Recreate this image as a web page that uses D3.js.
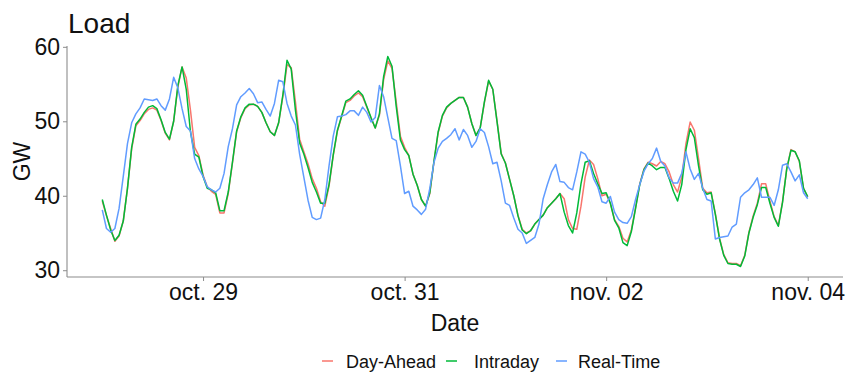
<!DOCTYPE html>
<html>
<head>
<meta charset="utf-8">
<script src="https://cdn.jsdelivr.net/npm/d3@7"></script>
<style>
  html, body { margin: 0; padding: 0; background: #fff; }
  svg { display: block; font-family: "Liberation Sans", Arial, sans-serif; }
</style>
</head>
<body>
<svg id="chart" width="850" height="374"></svg>
<script>
// ---- data (hourly, starting oct. 28 00:00) ----
const startTime = Date.UTC(2018, 9, 28, 0);
const seriesNames = ["Day-Ahead", "Intraday", "Real-Time"];
const seriesColors = ["#F8766D", "#00BA38", "#619CFF"];

const dayAhead = [
  39.3,37.3,35.6,33.9,34.6,36.6,41.0,46.3,49.4,50.1,51.0,51.6,51.8,51.5,50.1,48.4,47.5,50.0,54.6,57.3,55.8,51.5,46.5,45.4,
  42.8,41.2,40.6,40.2,37.7,37.7,40.3,44.4,48.6,50.5,51.7,52.2,52.3,52.0,51.2,49.8,48.6,48.1,49.8,53.3,57.6,57.2,52.6,47.6,
  45.9,44.3,42.3,41.0,39.2,38.6,41.3,45.4,48.7,50.6,52.5,52.8,53.4,53.8,53.3,51.9,50.4,49.1,50.8,55.6,58.1,57.1,52.6,48.0,
  46.5,45.4,42.9,41.4,39.5,38.6,40.3,44.6,48.5,50.7,51.8,52.4,52.8,53.2,53.2,51.9,49.7,48.1,49.1,52.5,55.4,54.3,50.1,45.7,
  44.4,42.2,40.0,37.4,35.5,35.0,35.3,36.2,36.8,37.4,38.4,39.0,39.6,40.3,39.6,36.8,35.6,35.5,38.6,42.5,44.8,44.2,42.3,40.0,
  40.2,39.0,36.8,35.9,34.3,33.8,35.4,38.4,41.6,43.6,44.5,44.3,44.0,44.6,44.3,43.2,41.5,40.5,42.5,47.0,49.9,48.8,45.0,41.0,
  40.4,40.5,37.6,34.3,32.1,31.0,30.9,30.9,30.6,32.0,35.1,37.3,39.0,41.6,41.6,39.3,37.2,36.0,39.2,43.6,46.2,45.9,44.6,41.0,
  39.8
];
const intraday = [
  39.5,37.4,35.4,34.0,34.7,36.6,41.0,46.5,49.6,50.3,51.2,51.9,52.1,51.7,50.2,48.5,47.6,50.0,54.8,57.3,54.3,48.6,45.6,45.2,
  42.6,41.0,40.8,40.4,38.0,38.0,40.5,44.5,48.7,50.6,51.8,52.3,52.3,52.0,51.2,49.8,48.6,48.1,49.8,53.5,58.2,57.0,51.5,47.1,
  45.6,43.8,41.8,40.5,39.0,39.0,41.5,45.5,48.8,50.7,52.7,53.0,53.6,54.1,53.5,52.0,50.5,49.1,51.0,56.0,58.7,57.4,52.0,47.5,
  46.2,45.4,42.9,41.4,39.5,38.6,40.4,44.7,48.6,50.8,51.9,52.4,52.8,53.2,53.2,51.9,49.7,48.1,49.1,52.6,55.5,54.3,50.0,45.6,
  44.4,42.2,40.0,37.3,35.4,34.9,35.3,36.2,36.8,37.4,38.4,39.0,39.6,40.3,37.8,36.0,35.0,37.7,41.6,44.5,44.7,43.0,41.6,40.3,
  40.4,39.0,36.7,35.7,33.7,33.3,35.2,38.3,41.5,43.5,44.4,44.0,43.5,43.8,43.8,42.3,40.6,39.3,41.5,46.2,49.0,47.8,44.0,40.8,
  40.2,40.4,37.5,34.2,32.0,30.9,30.8,30.8,30.5,31.9,35.0,37.1,38.8,41.1,41.1,39.0,37.1,35.9,39.1,43.6,46.1,45.9,44.7,41.0,
  39.9
];
const realTime = [
  38.1,35.6,35.1,35.6,38.3,42.6,47.0,49.8,51.0,51.8,53.0,52.9,52.8,53.0,52.1,51.5,53.0,55.9,54.5,51.7,49.3,48.7,45.0,43.6,
  42.6,41.2,40.8,40.5,41.0,43.0,46.6,49.0,52.2,53.3,53.8,54.4,53.7,52.5,52.6,51.6,50.7,52.4,55.5,55.3,52.4,50.7,49.5,45.6,
  42.5,39.4,37.1,36.8,37.0,39.5,44.0,48.0,50.6,50.7,50.9,51.4,51.4,50.8,51.9,51.2,49.9,50.5,54.8,53.3,50.5,47.7,47.4,44.0,
  40.3,40.6,38.6,38.1,37.5,38.2,41.0,44.5,46.4,47.3,47.7,48.2,49.0,47.5,48.9,48.1,46.5,47.3,49.0,48.5,46.6,44.3,44.5,42.0,
  39.0,38.7,37.0,35.5,35.0,33.6,34.0,34.4,36.2,39.6,41.5,43.2,44.2,41.9,41.8,41.1,40.8,43.2,45.9,45.6,44.5,42.3,41.2,39.2,
  39.0,39.9,37.8,36.8,36.4,36.3,37.2,39.5,41.5,43.3,44.3,45.0,46.4,44.6,44.0,42.4,41.7,41.7,43.0,45.9,43.6,42.2,43.0,41.0,
  39.5,39.3,34.2,34.4,34.5,34.6,35.8,36.2,39.8,40.4,40.8,41.5,42.4,39.8,39.8,39.8,38.7,40.8,44.1,44.3,43.2,42.0,42.8,40.4,
  39.6
];
const seriesValues = [dayAhead, intraday, realTime];

const xTickDates = [Date.UTC(2018, 9, 29), Date.UTC(2018, 9, 31), Date.UTC(2018, 10, 2), Date.UTC(2018, 10, 4)];
const xTickLabels = ["oct. 29", "oct. 31", "nov. 02", "nov. 04"];
const yTicks = [30, 40, 50, 60];

// ---- layout ----
const svg = d3.select("#chart");
const margin = { left: 67, right: 7, top: 46, bottom: 97 };
const W = 850, H = 374;
const pw = W - margin.left - margin.right;
const ph = H - margin.top - margin.bottom;

const HOUR = 3600 * 1000;
const times = dayAhead.map((_, i) => new Date(startTime + i * HOUR));
const tExt = d3.extent(times);
const tPad = (tExt[1] - tExt[0]) * 0.05;
const x = d3.scaleUtc()
  .domain([new Date(+tExt[0] - tPad), new Date(+tExt[1] + tPad)])
  .range([margin.left, margin.left + pw]);

const allVals = seriesValues.flat();
const vExt = d3.extent(allVals);
const vPad = (vExt[1] - vExt[0]) * 0.05;
const y = d3.scaleLinear()
  .domain([vExt[0] - vPad, vExt[1] + vPad])
  .range([margin.top + ph, margin.top]);

const axisColor = "#8c8c8c";
const textColor = "#111";

// lines
const line = d3.line().x((d, i) => x(times[i])).y(d => y(d));
seriesValues.forEach((vals, k) => {
  svg.append("path")
    .datum(vals)
    .attr("fill", "none")
    .attr("stroke", seriesColors[k])
    .attr("stroke-width", 1.5)
    .attr("stroke-linejoin", "round")
    .attr("d", line);
});

// y axis
const yAxis = d3.axisLeft(y).tickValues(yTicks).tickSize(4).tickPadding(3).tickFormat(d3.format("d"));
const gy = svg.append("g").attr("transform", `translate(${margin.left},0)`).call(yAxis);
gy.select(".domain").attr("stroke", axisColor).attr("stroke-width", 1.1)
  .attr("d", `M0,${margin.top}V${margin.top + ph}`);
gy.selectAll(".tick line").attr("stroke", axisColor);
gy.selectAll(".tick text").attr("fill", textColor).style("font-size", "23px")
  .style("font-family", "'Liberation Sans', Arial, sans-serif");

// x axis
const xAxis = d3.axisBottom(x).tickValues(xTickDates.map(d => new Date(d)))
  .tickFormat((d, i) => xTickLabels[i]).tickSize(4).tickPadding(3);
const gx = svg.append("g").attr("transform", `translate(0,${margin.top + ph})`).call(xAxis);
gx.select(".domain").attr("stroke", axisColor).attr("stroke-width", 1.1)
  .attr("d", `M${margin.left},0H${margin.left + pw}`);
gx.selectAll(".tick line").attr("stroke", axisColor);
gx.selectAll(".tick text").attr("fill", textColor).style("font-size", "23px")
  .style("font-family", "'Liberation Sans', Arial, sans-serif");

// title
svg.append("text").attr("x", margin.left + 1).attr("y", 33)
  .attr("fill", textColor).style("font-size", "28px").text("Load");

// axis titles
svg.append("text").attr("x", margin.left + pw / 2).attr("y", 331)
  .attr("text-anchor", "middle").attr("fill", textColor).style("font-size", "23px").text("Date");
svg.append("text")
  .attr("transform", `translate(30,${margin.top + ph / 2}) rotate(-90)`)
  .attr("text-anchor", "middle").attr("fill", textColor).style("font-size", "23px").text("GW");

// legend
const legendItems = [
  { name: seriesNames[0], color: seriesColors[0], kx: 322, tx: 346 },
  { name: seriesNames[1], color: seriesColors[1], kx: 446, tx: 474 },
  { name: seriesNames[2], color: seriesColors[2], kx: 556, tx: 578 }
];
const lg = svg.append("g");
legendItems.forEach(it => {
  lg.append("line").attr("x1", it.kx).attr("x2", it.kx + 11).attr("y1", 361).attr("y2", 361)
    .attr("stroke", it.color).attr("stroke-width", 1.5);
  lg.append("text").attr("x", it.tx).attr("y", 368).attr("fill", textColor)
    .style("font-size", "18px").text(it.name);
});
</script>
</body>
</html>
